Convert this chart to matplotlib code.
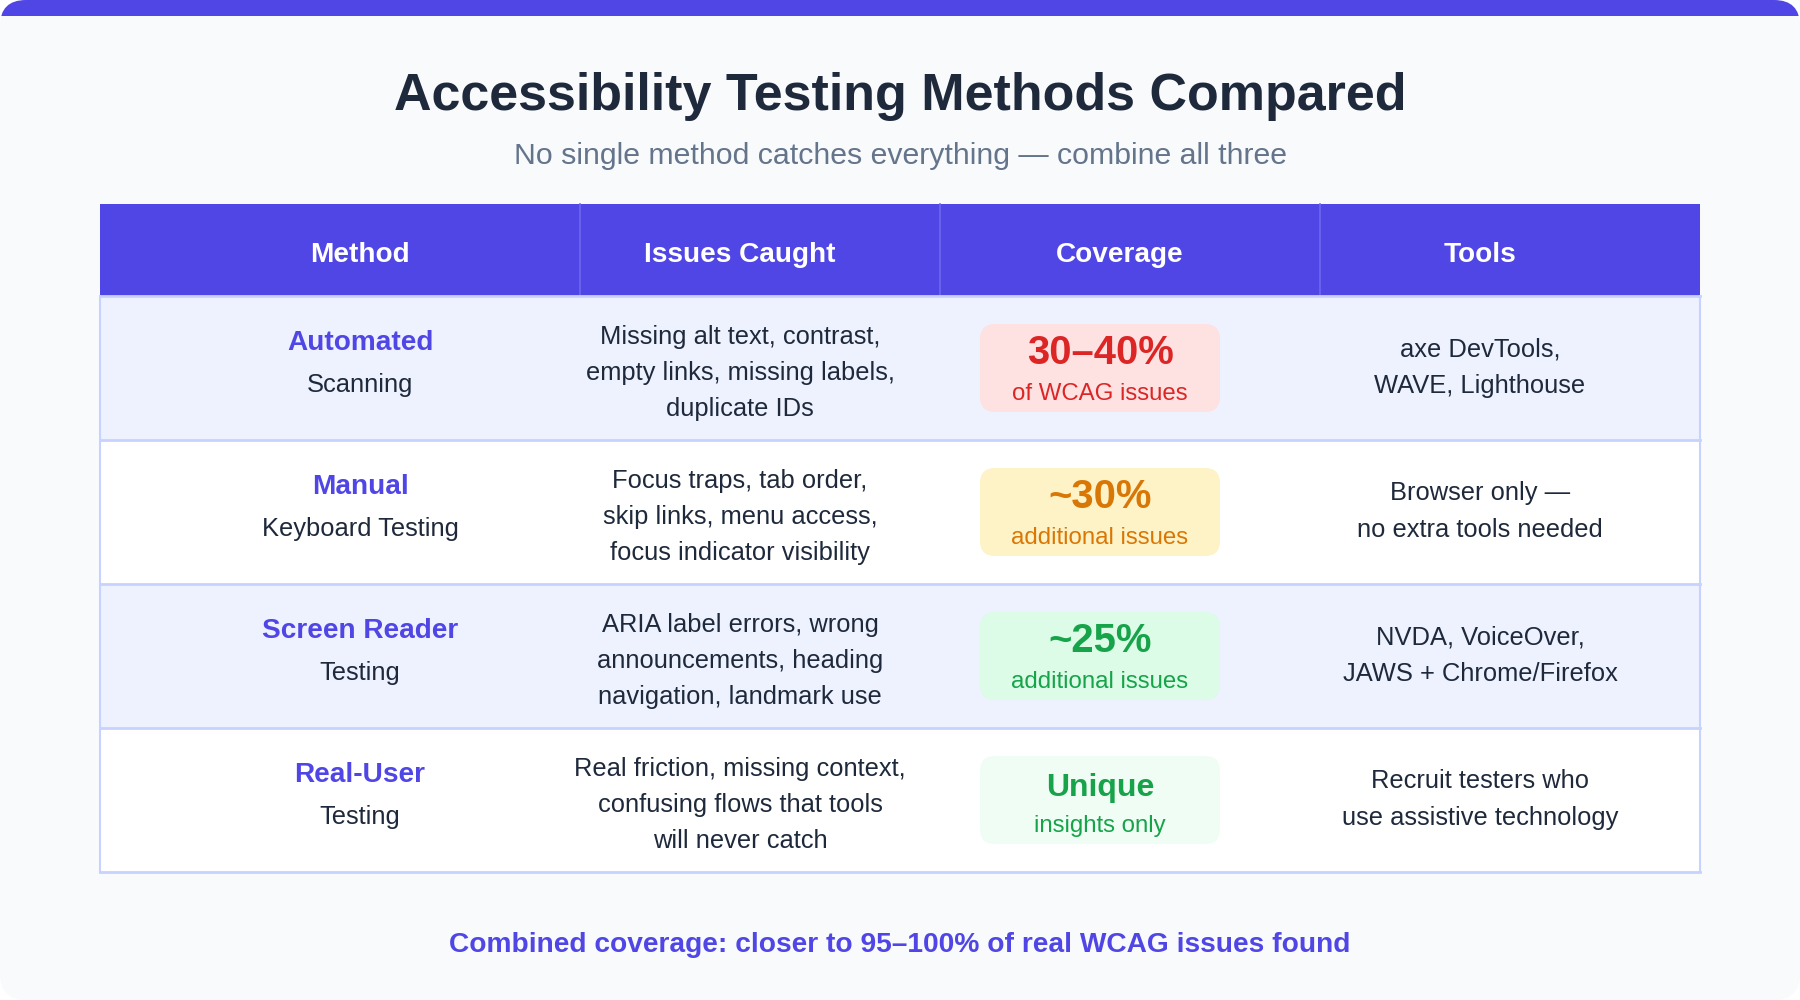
import matplotlib
matplotlib.use("Agg")
import matplotlib.pyplot as plt
from matplotlib.patches import FancyBboxPatch, Rectangle

plt.rcParams["font.family"] = ["Liberation Sans", "DejaVu Sans"]

TITLE = "Accessibility Testing Methods Compared"
SUBTITLE = "No single method catches everything \u2014 combine all three"
FOOTER = "Combined coverage: closer to 95\u2013100% of real WCAG issues found"

headers = ["Method", "Issues Caught", "Coverage", "Tools"]
methods = ["Automated", "Manual", "Screen Reader", "Real-User"]
method_subs = ["Scanning", "Keyboard Testing", "Testing", "Testing"]
issues = [
    ["Missing alt text, contrast,", "empty links, missing labels,", "duplicate IDs"],
    ["Focus traps, tab order,", "skip links, menu access,", "focus indicator visibility"],
    ["ARIA label errors, wrong", "announcements, heading", "navigation, landmark use"],
    ["Real friction, missing context,", "confusing flows that tools", "will never catch"],
]
coverage_main = ["30\u201340%", "~30%", "~25%", "Unique"]
coverage_sub = ["of WCAG issues", "additional issues", "additional issues", "insights only"]
tools = [
    ["axe DevTools,", "WAVE, Lighthouse"],
    ["Browser only \u2014", "no extra tools needed"],
    ["NVDA, VoiceOver,", "JAWS + Chrome/Firefox"],
    ["Recruit testers who", "use assistive technology"],
]

# badge styles per row: (background, text colour, main text size in px)
badge_styles = [
    ("#fee2e2", "#dc2626", 40),
    ("#fef3c7", "#d97706", 40),
    ("#dcfce7", "#16a34a", 40),
    ("#f0fdf4", "#16a34a", 32),
]

INDIGO = "#4f46e5"
DARK = "#1e293b"
BORDER = "#c7d2fe"


def px(size):
    # pixel font size -> points at dpi 100
    return size * 0.72


fig = plt.figure(figsize=(18, 10), dpi=100, facecolor="white")
ax = fig.add_axes([0, 0, 1, 1])
ax.set_xlim(0, 1800)
ax.set_ylim(1000, 0)
ax.axis("off")

card = FancyBboxPatch((0, 0), 1800, 1000, boxstyle="round,pad=0,rounding_size=26",
                      facecolor="#f8fafc", edgecolor="none")
ax.add_patch(card)
bar = Rectangle((0, 0), 1800, 16, facecolor=INDIGO, edgecolor="none")
ax.add_patch(bar)
bar.set_clip_path(card)

ax.text(900, 110, TITLE, ha="center", va="baseline", fontsize=px(52),
        fontweight="bold", color=DARK)
ax.text(900, 164, SUBTITLE, ha="center", va="baseline", fontsize=px(30.2),
        color="#64748b")

# table geometry
left, right = 100, 1700
col_edges = [100, 580, 940, 1320, 1700]
text_x = [360, 740, 1120, 1480]
badge_x = 1100
head_top, head_bot = 204, 296
row_h = 144

ax.add_patch(Rectangle((left, head_top), right - left, head_bot - head_top,
                       facecolor=INDIGO, edgecolor="none"))
for xe in col_edges[1:-1]:
    ax.plot([xe, xe], [head_top, head_bot], color="#6d68f0", lw=1.2)
for hx, label in zip(text_x, headers):
    ax.text(hx, head_top + 58, label, ha="center", va="baseline",
            fontsize=px(28), fontweight="bold", color="white")

for i in range(len(methods)):
    top = head_bot + i * row_h
    c = top + row_h / 2
    fill = "#eef2ff" if i % 2 == 0 else "white"
    ax.add_patch(Rectangle((left, top), right - left, row_h, facecolor=fill,
                           edgecolor="none"))

    ax.text(text_x[0], c - 18, methods[i], ha="center", va="baseline",
            fontsize=px(28), fontweight="bold", color=INDIGO)
    ax.text(text_x[0], c + 24, method_subs[i], ha="center", va="baseline",
            fontsize=px(25.5), color=DARK)

    for j, line in enumerate(issues[i]):
        ax.text(text_x[1], c - 24 + 36 * j, line, ha="center", va="baseline",
                fontsize=px(25.5), color=DARK)

    bg, fg, main_size = badge_styles[i]
    ax.add_patch(FancyBboxPatch((badge_x - 120, c - 44), 240, 88,
                                boxstyle="round,pad=0,rounding_size=15",
                                facecolor=bg, edgecolor="none"))
    ax.text(badge_x, c - 4, coverage_main[i], ha="center", va="baseline",
            fontsize=px(main_size), fontweight="bold", color=fg)
    ax.text(badge_x, c + 32, coverage_sub[i], ha="center", va="baseline",
            fontsize=px(24), color=fg)

    for j, line in enumerate(tools[i]):
        ax.text(text_x[3], c - 12 + 37 * j, line, ha="center", va="baseline",
                fontsize=px(25.5), color=DARK)

table_bot = head_bot + len(methods) * row_h
for k in range(len(methods) + 1):
    yy = head_bot + k * row_h
    ax.plot([left, right], [yy, yy], color=BORDER, lw=2)
ax.plot([left, left], [head_bot, table_bot], color=BORDER, lw=1.5)
ax.plot([right, right], [head_bot, table_bot], color=BORDER, lw=1.5)

ax.text(900, 952, FOOTER, ha="center", va="baseline", fontsize=px(28.1),
        fontweight="bold", color=INDIGO)

fig.savefig("out.png", dpi=100, facecolor="white")
